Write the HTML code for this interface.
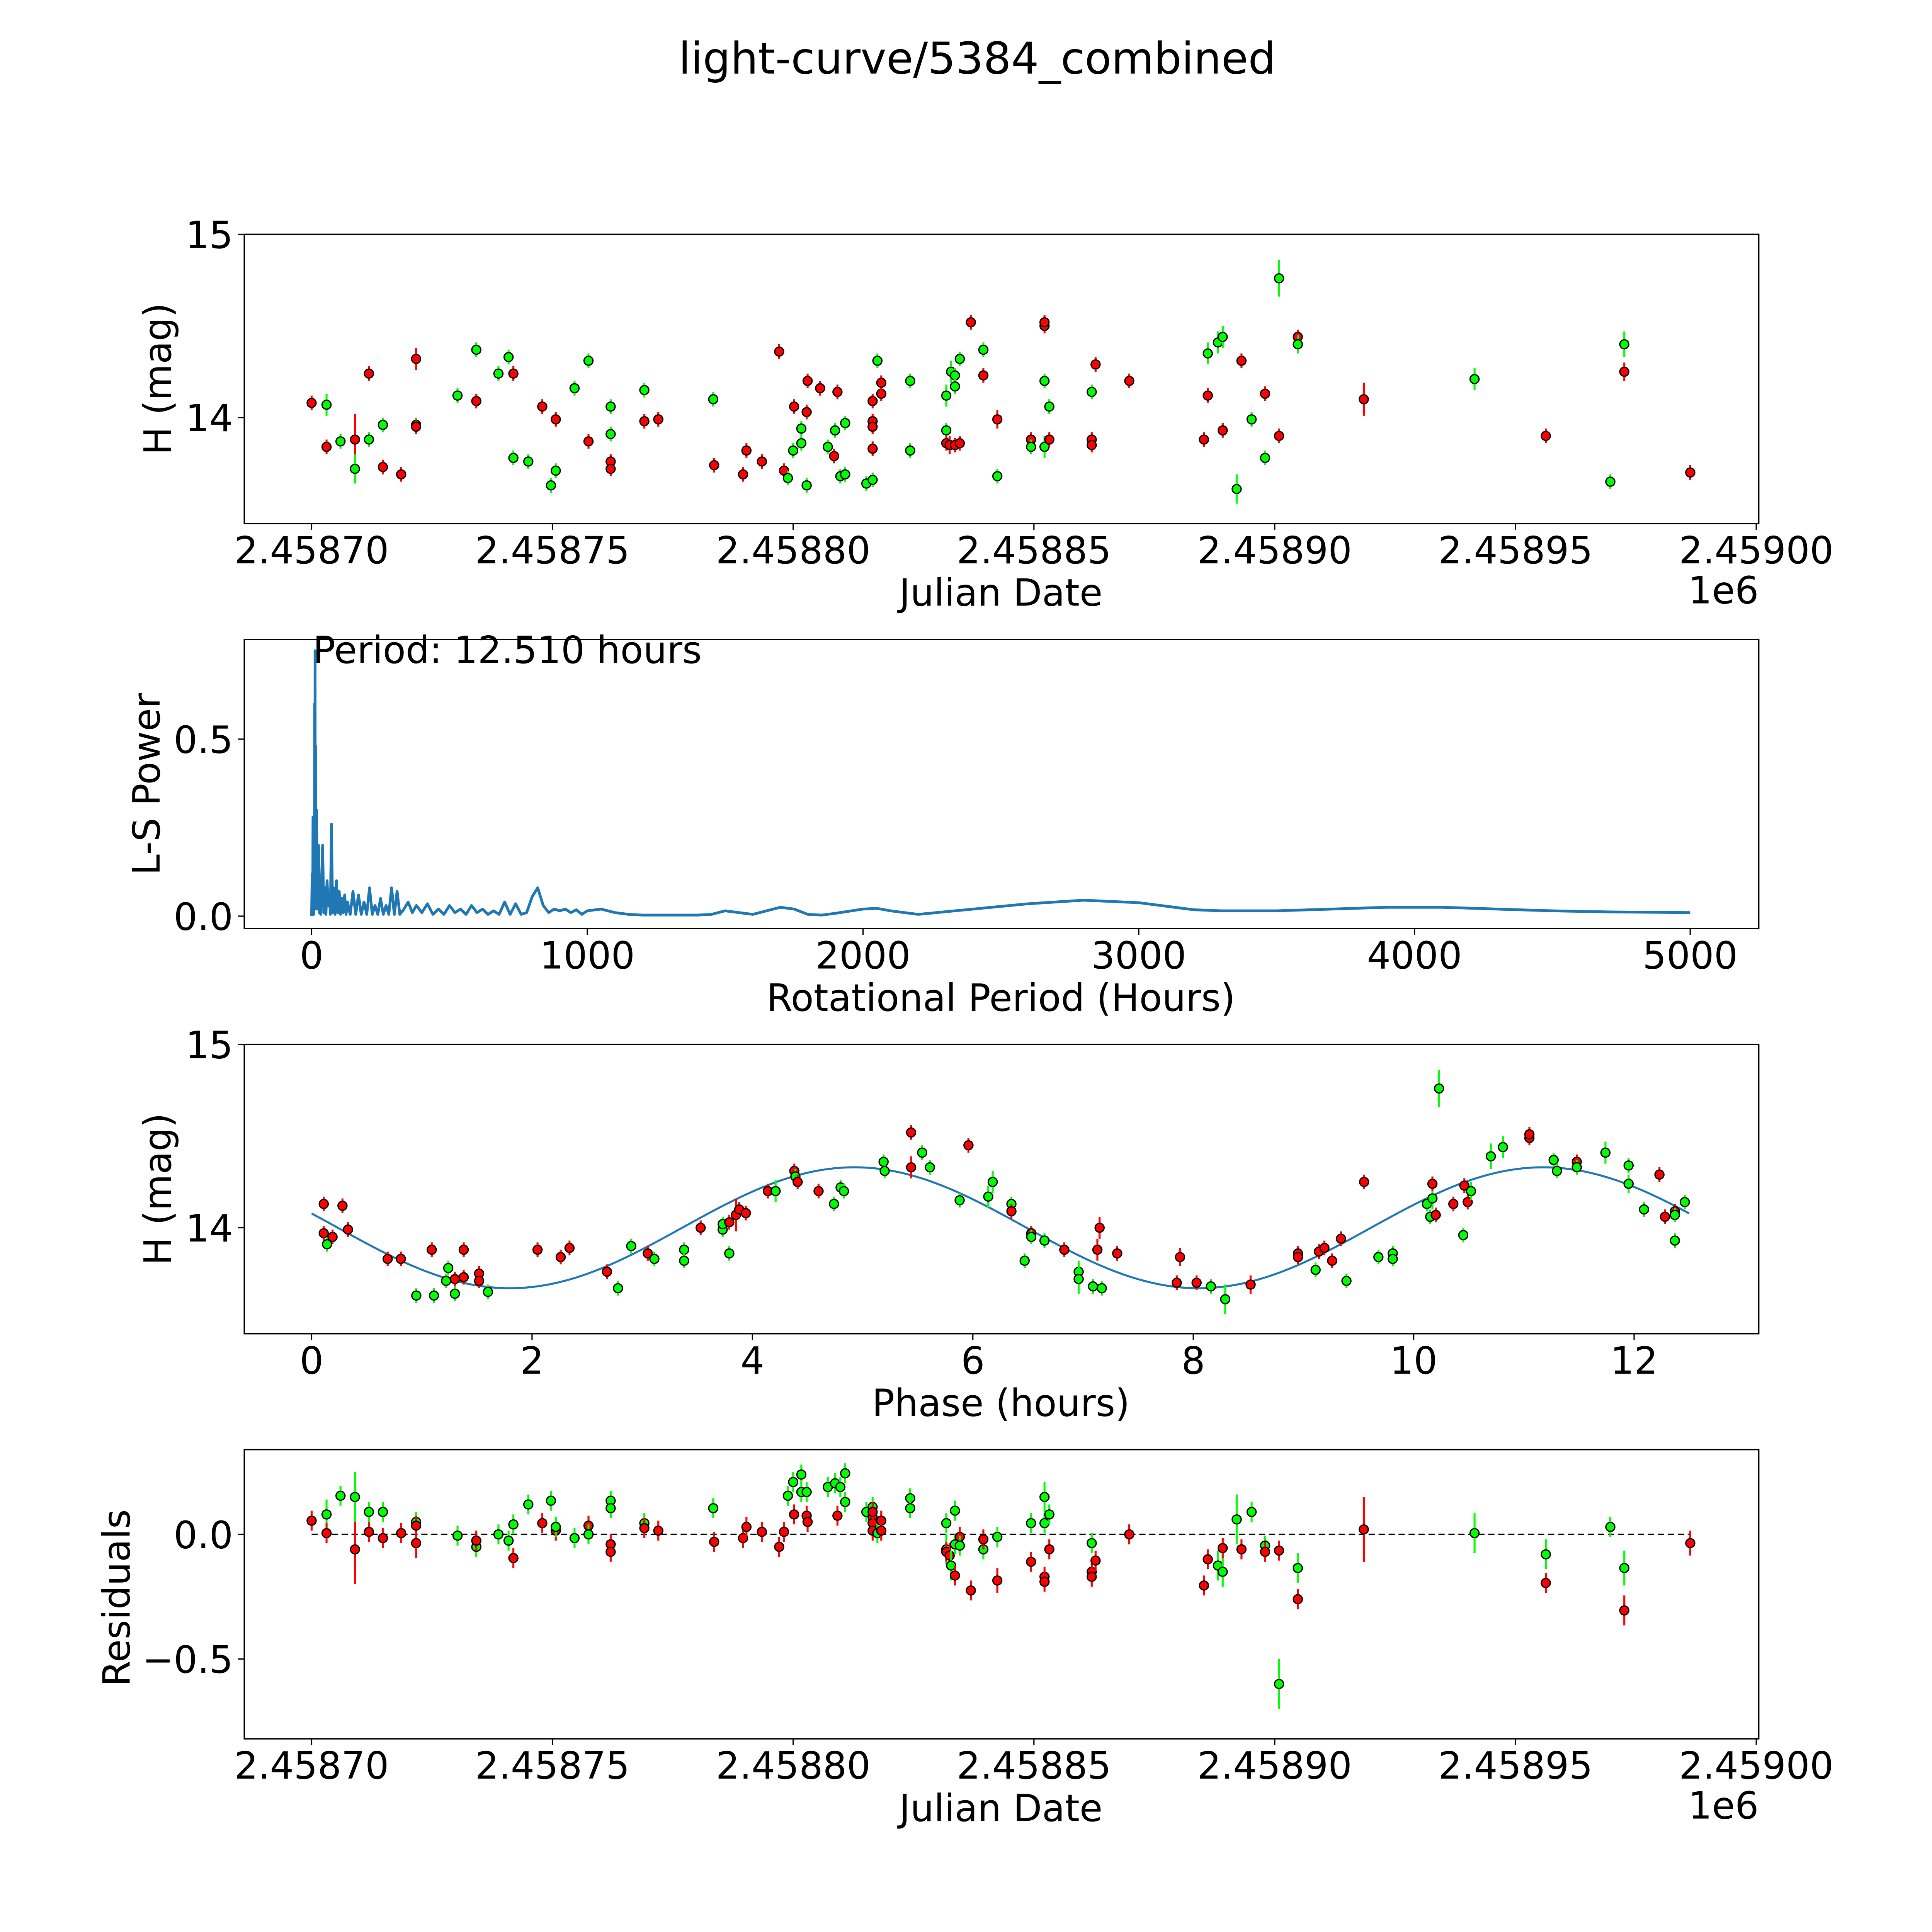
<!DOCTYPE html>
<html><head><meta charset="utf-8"><style>
html,body{margin:0;padding:0;background:#fff;overflow:hidden;width:100vw;height:100vh;}
svg{display:block;width:100vw;height:100vh;}
text{font-family:"DejaVu Sans","Liberation Sans",sans-serif;fill:#000;}
</style></head><body>
<svg id="fig" xmlns="http://www.w3.org/2000/svg" viewBox="0 0 1550 1550" preserveAspectRatio="none">
<rect x="0" y="0" width="1550" height="1550" fill="#fff"/>
<text x="784" y="59" font-size="35" text-anchor="middle">light-curve/5384_combined</text>
<g id="g1"></g>
<g id="g2"></g>
<g id="g3"></g>
<g id="g4"></g>
</svg>
<script>
// ---- data: light curve (day offset from JD 2458700, H mag, filter, [err]) ----
const lcPoints = [
[0,14.08,'r'],[0.31,14.07,'g',0.06],[0.31,13.84,'r'],[0.6,13.87,'g'],[0.9,13.88,'r',0.14],[0.9,13.72,'g',0.08],
[1.19,13.88,'g'],[1.19,14.24,'r'],[1.48,13.73,'r'],[1.48,13.96,'g'],[1.86,13.69,'r'],[2.17,14.32,'r',0.06],
[2.17,13.96,'g'],[2.17,13.95,'r'],[3.03,14.12,'g'],[3.42,14.37,'g'],[3.42,14.09,'r'],[3.88,14.24,'g'],
[4.09,14.33,'g'],[4.19,14.24,'r'],[4.19,13.78,'g'],[4.5,13.76,'g'],[4.79,14.06,'r'],[4.97,13.63,'g'],
[5.07,13.99,'r'],[5.07,13.71,'g'],[5.46,14.16,'g'],[5.75,13.87,'r'],[5.75,14.31,'g'],[6.21,14.06,'g'],
[6.21,13.91,'g'],[6.21,13.76,'r'],[6.21,13.72,'r'],[6.91,14.15,'g'],[6.91,13.98,'r'],[7.2,13.99,'r'],
[8.34,14.10,'g'],[8.36,13.74,'r'],[8.96,13.69,'r'],[9.03,13.82,'r'],[9.35,13.76,'r'],[9.71,14.36,'r'],
[9.81,13.71,'r'],[9.89,13.67,'g'],[10.02,14.06,'r'],[10.0,13.82,'g'],[10.17,13.94,'g'],[10.17,13.86,'g'],
[10.3,14.2,'r'],[10.28,14.03,'r'],[10.28,13.63,'g'],[10.56,14.16,'r'],[10.72,13.84,'g'],[10.85,13.79,'r'],
[10.87,13.93,'g'],[10.98,13.68,'g'],[11.08,13.69,'g'],[11.08,13.97,'g'],[10.92,14.14,'r'],[11.52,13.64,'g'],
[11.65,13.66,'g'],[11.65,13.83,'r'],[11.65,13.98,'r'],[11.65,13.95,'r'],[11.65,14.09,'r'],[11.75,14.31,'g'],
[11.83,14.13,'r'],[11.83,14.19,'r'],[12.43,14.2,'g'],[12.43,13.82,'g'],[13.18,13.93,'g'],[13.18,14.12,'g',0.06],
[13.18,13.86,'r'],[13.25,13.85,'r',0.05],[13.28,14.25,'g',0.06],[13.36,13.85,'r'],[13.36,14.23,'g'],[13.36,14.17,'g'],
[13.46,13.86,'r'],[13.46,14.32,'g'],[13.69,14.52,'r'],[13.95,14.37,'g'],[13.95,14.23,'r'],[14.24,13.99,'r',0.05],
[14.24,13.68,'g'],[14.94,13.88,'r'],[14.94,13.84,'g'],[15.22,14.5,'r'],[15.22,14.52,'r'],[15.22,14.2,'g'],
[15.22,13.84,'g',0.06],[15.32,13.88,'r'],[15.32,14.06,'g'],[16.2,13.88,'r'],[16.2,13.85,'r'],[16.2,14.14,'g'],
[16.28,14.29,'r'],[16.98,14.2,'r'],[18.53,13.88,'r'],[18.61,14.35,'g',0.06],[18.61,14.12,'r'],[18.82,14.41,'g',0.06],
[18.92,14.44,'g',0.06],[18.92,13.93,'r'],[19.21,13.61,'g',0.08],[19.31,14.31,'r'],[19.52,13.99,'g'],[19.8,13.78,'g'],
[19.8,14.13,'r'],[20.09,13.9,'r'],[20.09,14.76,'g',0.1],[20.48,14.44,'r'],[20.48,14.40,'g',0.05],[21.85,14.1,'r',0.09],
[24.15,14.21,'g',0.06],[25.63,13.9,'r'],[26.97,13.65,'g'],[27.26,14.4,'g',0.07],[27.26,14.25,'r',0.05],[28.63,13.7,'r']
];
// ---- residuals (day offset, residual, filter, [err]) ----
const resPoints = [
[0,0.055,'r'],[0.31,0.08,'g',0.06],[0.31,0.005,'r'],[0.6,0.155,'g'],[0.9,-0.06,'r',0.14],[0.9,0.15,'g',0.1],
[1.19,0.01,'r'],[1.19,0.09,'g'],[1.48,-0.015,'r'],[1.48,0.09,'g'],[1.86,0.005,'r'],[2.17,-0.035,'r',0.06],
[2.17,0.05,'g'],[2.17,0.035,'r'],[3.03,-0.005,'g'],[3.42,-0.05,'g'],[3.42,-0.025,'r'],[3.88,0,'g'],
[4.09,-0.025,'g'],[4.19,-0.095,'r'],[4.19,0.04,'g'],[4.5,0.12,'g'],[4.79,0.045,'r'],[4.97,0.135,'g'],
[5.07,0.015,'r'],[5.07,0.03,'g'],[5.46,-0.015,'g'],[5.75,0.035,'r'],[5.75,0,'g'],[6.21,0.135,'g'],
[6.21,0.105,'g'],[6.21,-0.04,'r'],[6.21,-0.07,'r'],[6.91,0.045,'g'],[6.91,0.025,'r'],[7.2,0.015,'r'],
[8.34,0.105,'g'],[8.36,-0.03,'r'],[8.96,-0.015,'r'],[9.03,0.03,'r'],[9.35,0.01,'r'],[9.71,-0.05,'r'],
[9.81,0.01,'r'],[9.89,0.155,'g'],[10.0,0.21,'g'],[10.02,0.08,'r'],[10.17,0.24,'g'],[10.17,0.17,'g'],
[10.28,0.075,'r'],[10.3,0.05,'r'],[10.28,0.17,'g'],[10.72,0.19,'g'],[10.87,0.205,'g'],[10.98,0.19,'g'],
[11.08,0.245,'g'],[11.08,0.13,'g'],[10.92,0.075,'r'],[11.52,0.09,'g'],[11.65,0.11,'g'],[11.65,0.07,'r'],
[11.65,0.045,'r'],[11.65,0.015,'r'],[11.65,0.09,'r'],[11.75,0.005,'g'],[11.83,0.055,'r'],[11.83,0.015,'r'],
[12.43,0.145,'g'],[12.43,0.105,'g'],[13.18,0.045,'g'],[13.18,-0.06,'g',0.06],[13.18,-0.07,'r'],[13.25,-0.085,'r',0.05],
[13.28,-0.125,'g',0.06],[13.36,-0.165,'r'],[13.36,0.095,'g'],[13.36,-0.04,'g'],[13.46,-0.01,'r'],[13.46,-0.045,'g'],
[13.69,-0.225,'r'],[13.95,-0.06,'g'],[13.95,-0.02,'r'],[14.24,-0.185,'r',0.05],[14.24,-0.01,'g'],[14.94,-0.11,'r'],
[14.94,0.045,'g'],[15.22,-0.17,'r'],[15.22,-0.19,'r'],[15.22,0.15,'g',0.06],[15.22,0.045,'g'],[15.32,-0.06,'r'],
[15.32,0.08,'g'],[16.2,-0.15,'r'],[16.2,-0.17,'r'],[16.2,-0.035,'g'],[16.28,-0.105,'r'],[16.98,0,'r'],
[18.53,-0.205,'r'],[18.61,-0.1,'r'],[18.82,-0.125,'g',0.06],[18.92,-0.15,'g',0.06],[18.92,-0.055,'r'],[19.21,0.06,'g',0.1],
[19.31,-0.06,'r'],[19.52,0.09,'g'],[19.8,-0.045,'g'],[19.8,-0.07,'r'],[20.09,-0.065,'r'],[20.09,-0.6,'g',0.1],
[20.48,-0.26,'r'],[20.48,-0.135,'g',0.06],[21.85,0.02,'r',0.13],[24.15,0.005,'g',0.08],[25.63,-0.195,'r'],[25.63,-0.08,'g',0.06],
[26.97,0.03,'g'],[27.26,-0.135,'g',0.07],[27.26,-0.305,'r',0.06],[28.63,-0.035,'r',0.05]
];
// ---- phase-folded (phase hours, mag, filter, [err]) ----
const phasePoints = [
[0.11,14.13,'r'],[0.11,13.97,'r'],[0.14,13.91,'g'],[0.19,13.95,'r'],[0.28,14.12,'r'],[0.33,13.99,'r'],
[0.69,13.83,'r'],[0.81,13.83,'r'],[0.95,13.63,'g'],[1.09,13.88,'r'],[1.11,13.63,'g'],[1.24,13.78,'g'],
[1.22,13.71,'g'],[1.3,13.64,'g'],[1.3,13.72,'r'],[1.38,13.73,'r'],[1.38,13.88,'r'],[1.52,13.75,'r'],
[1.52,13.71,'r'],[1.6,13.65,'g'],[2.05,13.88,'r'],[2.26,13.84,'r'],[2.34,13.89,'r'],[2.68,13.76,'r'],
[2.78,13.67,'g'],[2.9,13.9,'g'],[3.05,13.86,'r'],[3.11,13.83,'g'],[3.38,13.88,'g'],[3.38,13.82,'g'],
[3.53,14.0,'r'],[3.73,13.99,'g'],[3.73,14.02,'g'],[3.79,14.03,'r'],[3.79,13.86,'g'],[3.85,14.07,'r',0.09],
[3.88,14.1,'r'],[3.94,14.08,'r'],[4.14,14.2,'r'],[4.21,14.2,'g',0.06],[4.38,14.31,'r'],[4.39,14.28,'g'],
[4.41,14.25,'r'],[4.6,14.2,'r'],[4.74,14.13,'g'],[4.8,14.22,'g'],[4.83,14.2,'g'],[5.19,14.36,'g'],
[5.2,14.31,'g'],[5.44,14.33,'r',0.06],[5.44,14.52,'r'],[5.54,14.41,'g'],[5.61,14.33,'g'],[5.96,14.45,'r'],
[5.88,14.15,'g'],[6.14,14.17,'g',0.06],[6.18,14.25,'g',0.06],[6.35,14.13,'g'],[6.35,14.09,'r'],[6.53,13.97,'r'],
[6.53,13.95,'g'],[6.47,13.82,'g'],[6.65,13.93,'g'],[6.83,13.88,'r'],[6.96,13.76,'g',0.06],[6.96,13.72,'g',0.08],
[7.09,13.68,'g'],[7.13,13.88,'r',0.06],[7.15,14.0,'r',0.06],[7.17,13.67,'g'],[7.31,13.86,'r'],[7.85,13.7,'r'],
[7.88,13.84,'r',0.05],[8.03,13.7,'r'],[8.16,13.68,'g'],[8.29,13.61,'g',0.08],[8.52,13.69,'r',0.05],[8.95,13.86,'r'],
[8.95,13.84,'r'],[9.11,13.77,'g'],[9.14,13.87,'r'],[9.19,13.89,'r'],[9.26,13.82,'r'],[9.34,13.94,'r'],
[9.39,13.71,'g'],[9.55,14.25,'r'],[9.68,13.84,'g'],[9.81,13.86,'g'],[9.81,13.83,'g'],[10.12,14.13,'g'],
[10.17,14.16,'g',0.06],[10.15,14.06,'g'],[10.17,14.24,'r'],[10.2,14.07,'r'],[10.23,14.76,'g',0.1],[10.36,14.13,'r'],
[10.45,13.96,'g'],[10.46,14.23,'r'],[10.49,14.14,'r'],[10.52,14.2,'g',0.05],[10.7,14.39,'g',0.07],[10.81,14.44,'g',0.06],
[11.05,14.49,'r'],[11.05,14.51,'r'],[11.27,14.37,'g'],[11.3,14.31,'g'],[11.48,14.36,'r'],[11.48,14.33,'g'],
[11.74,14.41,'g',0.06],[11.95,14.34,'g'],[11.95,14.24,'g',0.05],[12.09,14.1,'g'],[12.23,14.29,'r'],[12.28,14.06,'r'],
[12.37,14.09,'r'],[12.37,14.07,'g'],[12.37,13.93,'g'],[12.46,14.14,'g']
];
// ---- periodogram (period hours, power) ----
const lsPeriod = [0,2,4,5,6,7,8,9,10,11,12,12.5,13,14,15,16,18,20,22,25,28,30,33,36,40,44,48,52,56,60,64,68,72,76,80,85,90,95,100,105,110,115,120,125,130,140,150,160,170,180,190,200,210,220,230,240,250,260,270,280,290,300,310,320,335,350,365,380,400,420,440,460,480,500,520,540,560,580,600,620,640,660,680,700,720,740,760,780,800,820,840,860,880,900,920,940,960,980,1000,1050,1100,1150,1200,1250,1300,1350,1400,1450,1500,1550,1600,1650,1700,1750,1800,1850,1900,2000,2050,2100,2200,2400,2600,2800,3000,3200,3300,3500,3700,3900,4100,4300,4500,4700,5000];
const lsPower = [0.0,0.12,0.005,0.28,0.01,0.15,0.005,0.2,0.02,0.6,0.1,0.75,0.3,0.02,0.48,0.05,0.3,0.12,0.02,0.2,0.01,0.08,0.005,0.1,0.2,0.01,0.08,0.005,0.1,0.03,0.06,0.005,0.26,0.01,0.08,0.005,0.1,0.01,0.07,0.005,0.05,0.01,0.06,0.005,0.04,0.005,0.07,0.005,0.06,0.005,0.04,0.005,0.08,0.005,0.03,0.005,0.05,0.005,0.03,0.005,0.08,0.005,0.07,0.005,0.02,0.04,0.01,0.03,0.01,0.035,0.005,0.02,0.005,0.03,0.01,0.02,0.005,0.03,0.01,0.02,0.005,0.015,0.005,0.04,0.005,0.035,0.005,0.01,0.055,0.08,0.03,0.01,0.02,0.015,0.02,0.01,0.018,0.005,0.015,0.02,0.01,0.005,0.003,0.003,0.003,0.003,0.003,0.005,0.015,0.01,0.005,0.015,0.025,0.02,0.005,0.003,0.008,0.02,0.022,0.015,0.005,0.02,0.035,0.045,0.038,0.018,0.015,0.015,0.02,0.025,0.025,0.02,0.015,0.012,0.01];
const lsXTicks = [0,1000,2000,3000,4000,5000];
const lsYTicks = [0.0,0.5];
const jdTicks = [0,5,10,15,20,25,30];
const jdTickLabels = ['2.45870','2.45875','2.45880','2.45885','2.45890','2.45895','2.45900'];
const magTicks = [14,15];
const phaseTicks = [0,2,4,6,8,10,12];
const resTicks = [0.0,-0.5];
// fit model: mean, amplitude, phase of minimum, period (hours)
const fitParams = [14.0, 0.33, 1.8, 6.25];
const bestPeriod = 12.510;

const NS='http://www.w3.org/2000/svg';
const TF=30, LF=30;
function mk(tag,attrs,parent){const e=document.createElementNS(NS,tag);for(const k in attrs)e.setAttribute(k,attrs[k]);parent.appendChild(e);return e;}
function lin(d0,d1,p0,p1){return v=>p0+(v-d0)*(p1-p0)/(d1-d0);}
const L=196,R=1411;
const xJD=lin(0,30,250,1409);
const xLS=lin(0,5000,250,1356);
const xPH=lin(0,12,250,1311);
const y1=lin(14,15,335,188), y3=lin(14,15,985,838), y2=lin(0,0.5,735,593), y4=lin(0,-0.5,1231,1331);
const COL={r:'#ff0000',g:'#00ff00'};

function frame(g,top,bot){
  const r=mk('rect',{x:L,y:top,width:R-L,height:bot-top,fill:'none',stroke:'#000','stroke-width':1.1},g);
  
  
}
function xticks(g,vals,labels,sx,bot){
  vals.forEach((v,i)=>{const x=sx(v);
    const t=mk('line',{x1:x,x2:x,y1:bot,y2:bot+5,stroke:'#000','stroke-width':1},g);
    
    
    const tx=mk('text',{x:x,y:bot+32,'font-size':TF,'text-anchor':'middle'},g);tx.textContent=labels[i];
    
    });
}
function yticks(g,vals,labels,sy){
  vals.forEach((v,i)=>{const y=sy(v);
    const t=mk('line',{x1:L-5,x2:L,y1:y,y2:y,stroke:'#000','stroke-width':1},g);
    
    
    const tx=mk('text',{x:L-9,y:y+11,'font-size':TF,'text-anchor':'end'},g);tx.textContent=labels[i];
    
    });
}
function label(g,txt,x,y,rot,name){
  const t=mk('text',{x:x,y:y,'font-size':LF,'text-anchor':'middle',transform:rot?`rotate(-90 ${x} ${y})`:''},g);t.textContent=txt;
  
  
}
function points(g,pts,sx,sy){
  pts.forEach(p=>{const x=sx(p[0]),y=sy(p[1]);const e=(p[3]||0.04);
    const ya=sy(p[1]+e),yb=sy(p[1]-e);
    const l=mk('line',{x1:x,x2:x,y1:ya,y2:yb,stroke:COL[p[2]],'stroke-width':1.6},g);
    
    
    const c=mk('circle',{cx:x,cy:y,r:3.6,fill:COL[p[2]],stroke:'#000','stroke-width':1},g);
    
    });
}
function fmt(v){return (v<0?'\u2212':'')+Math.abs(v).toFixed(1);}

// Panel 1
const g1=document.getElementById('g1');
frame(g1,188,420);
xticks(g1,jdTicks,jdTickLabels,xJD,420);
yticks(g1,magTicks,magTicks.map(String),y1);
label(g1,'H (mag)',137,304,true,'y-axis-title');
label(g1,'Julian Date',803,486,false,'x-axis-title');
const e1=mk('text',{x:1411,y:484,'font-size':TF,'text-anchor':'end'},g1);e1.textContent='1e6';


points(g1,lcPoints,xJD,y1);

// Panel 2
const g2=document.getElementById('g2');
frame(g2,513,745);
xticks(g2,lsXTicks,lsXTicks.map(String),xLS,745);
yticks(g2,lsYTicks,lsYTicks.map(v=>v.toFixed(1)),y2);
label(g2,'L-S Power',128,629,true,'y-axis-title');
label(g2,'Rotational Period (Hours)',803,811,false,'x-axis-title');
const pl=mk('polyline',{points:lsPeriod.map((p,i)=>xLS(p)+','+y2(lsPower[i])).join(' '),fill:'none',stroke:'#1f77b4','stroke-width':2.2,'stroke-linejoin':'round'},g2);


const pt=mk('text',{x:251,y:532,'font-size':LF},g2);pt.textContent='Period: '+bestPeriod.toFixed(3)+' hours';



// Panel 3
const g3=document.getElementById('g3');
frame(g3,838,1070);
xticks(g3,phaseTicks,phaseTicks.map(String),xPH,1070);
yticks(g3,magTicks,magTicks.map(String),y3);
label(g3,'H (mag)',137,954,true,'y-axis-title');
label(g3,'Phase (hours)',803,1136,false,'x-axis-title');
const fitPts=[];for(let t=0;t<=bestPeriod;t+=0.05){const m=fitParams[0]-fitParams[1]*Math.cos(2*Math.PI*(t-fitParams[2])/fitParams[3]);fitPts.push(xPH(t)+','+y3(m));}
const fl=mk('polyline',{points:fitPts.join(' '),fill:'none',stroke:'#1f77b4','stroke-width':1.6},g3);


points(g3,phasePoints,xPH,y3);

// Panel 4
const g4=document.getElementById('g4');
frame(g4,1163,1395);
xticks(g4,jdTicks,jdTickLabels,xJD,1395);
yticks(g4,resTicks,resTicks.map(fmt),y4);
label(g4,'Residuals',104,1282,true,'y-axis-title');
label(g4,'Julian Date',803,1461,false,'x-axis-title');
const e4=mk('text',{x:1411,y:1459,'font-size':TF,'text-anchor':'end'},g4);e4.textContent='1e6';


const zl=mk('line',{x1:xJD(0),x2:xJD(28.63),y1:y4(0),y2:y4(0),stroke:'#000','stroke-width':1.2,'stroke-dasharray':'5,3'},g4);


points(g4,resPoints,xJD,y4);
</script>
</body></html>
